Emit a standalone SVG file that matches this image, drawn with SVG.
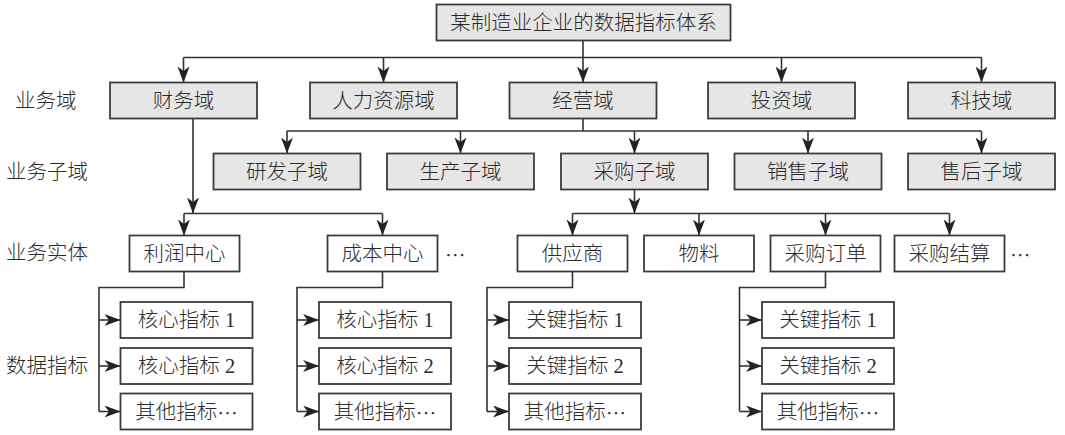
<svg xmlns="http://www.w3.org/2000/svg" width="1065" height="435" viewBox="0 0 1065 435">
<defs>
<style>
.g{fill:#e6e6e6;stroke:#3c3c3c;stroke-width:1.8}
.w{fill:#ffffff;stroke:#3c3c3c;stroke-width:1.8}
.t{font-family:"Liberation Serif","Noto Sans CJK SC",serif;font-size:20.5px;font-weight:300;fill:#2b2b2b;text-anchor:middle;dominant-baseline:central}
.l{font-family:"Liberation Serif","Noto Sans CJK SC",serif;font-size:20.5px;font-weight:300;fill:#2b2b2b;dominant-baseline:central}
.e{font-family:"Noto Sans CJK SC",sans-serif}
.c{fill:none;stroke:#333;stroke-width:1.6}
</style>
<marker id="ah" markerUnits="userSpaceOnUse" markerWidth="17" markerHeight="13" refX="16" refY="6" orient="auto">
<path d="M0,0 L16,6 L0,12 L4.5,6 z" fill="#222"/>
</marker>
</defs>
<rect width="1065" height="435" fill="#ffffff"/>

<g id="labels">
<text class="l" x="15" y="100.5">业务域</text>
<text class="l" x="6" y="171.5">业务子域</text>
<text class="l" x="6" y="253">业务实体</text>
<text class="l" x="6" y="365.5">数据指标</text>
</g>

<g id="connectors">
<path class="c" d="M583,40.5 V57.5 M183.5,57.5 H981.5"/>
<path class="c" marker-end="url(#ah)" d="M183.5,57.5 V82.5"/>
<path class="c" marker-end="url(#ah)" d="M383.5,57.5 V82.5"/>
<path class="c" marker-end="url(#ah)" d="M583,57.5 V82.5"/>
<path class="c" marker-end="url(#ah)" d="M781.5,57.5 V82.5"/>
<path class="c" marker-end="url(#ah)" d="M981.5,57.5 V82.5"/>

<path class="c" d="M583,118.5 V131 M287,131 H981.5"/>
<path class="c" marker-end="url(#ah)" d="M287,131 V153.5"/>
<path class="c" marker-end="url(#ah)" d="M460.5,131 V153.5"/>
<path class="c" marker-end="url(#ah)" d="M634.5,131 V153.5"/>
<path class="c" marker-end="url(#ah)" d="M808,131 V153.5"/>
<path class="c" marker-end="url(#ah)" d="M981.5,131 V153.5"/>

<path class="c" marker-end="url(#ah)" d="M193,118.5 V213.5"/>
<path class="c" d="M184,213.5 H382.5"/>
<path class="c" marker-end="url(#ah)" d="M184,213.5 V235.5"/>
<path class="c" marker-end="url(#ah)" d="M382.5,213.5 V235.5"/>

<path class="c" marker-end="url(#ah)" d="M634.5,189.5 V213.5"/>
<path class="c" d="M572.5,213.5 H949.5"/>
<path class="c" marker-end="url(#ah)" d="M572.5,213.5 V235.5"/>
<path class="c" marker-end="url(#ah)" d="M699,213.5 V235.5"/>
<path class="c" marker-end="url(#ah)" d="M825.5,213.5 V235.5"/>
<path class="c" marker-end="url(#ah)" d="M949.5,213.5 V235.5"/>

<path class="c" d="M184,271.5 V287.5 H99 V411.5"/>
<path class="c" marker-end="url(#ah)" d="M99,320 H120.5"/>
<path class="c" marker-end="url(#ah)" d="M99,366 H120.5"/>
<path class="c" marker-end="url(#ah)" d="M99,411.5 H120.5"/>

<path class="c" d="M382.5,271.5 V287.5 H297 V411.5"/>
<path class="c" marker-end="url(#ah)" d="M297,320 H319"/>
<path class="c" marker-end="url(#ah)" d="M297,366 H319"/>
<path class="c" marker-end="url(#ah)" d="M297,411.5 H319"/>

<path class="c" d="M572.5,271.5 V287.5 H487 V411.5"/>
<path class="c" marker-end="url(#ah)" d="M487,320 H509"/>
<path class="c" marker-end="url(#ah)" d="M487,366 H509"/>
<path class="c" marker-end="url(#ah)" d="M487,411.5 H509"/>

<path class="c" d="M825.5,271.5 V287.5 H739.5 V411.5"/>
<path class="c" marker-end="url(#ah)" d="M739.5,320 H762"/>
<path class="c" marker-end="url(#ah)" d="M739.5,366 H762"/>
<path class="c" marker-end="url(#ah)" d="M739.5,411.5 H762"/>
</g>

<g id="root"><rect class="g" x="436.5" y="4.5" width="294" height="36"/><text class="t" x="583.5" y="22.5">某制造业企业的数据指标体系</text></g>

<g id="d-finance"><rect class="g" x="110" y="82.5" width="147" height="36"/><text class="t" x="183.5" y="100.5">财务域</text></g>
<g id="d-hr"><rect class="g" x="310" y="82.5" width="147" height="36"/><text class="t" x="383.5" y="100.5">人力资源域</text></g>
<g id="d-ops"><rect class="g" x="509.5" y="82.5" width="147" height="36"/><text class="t" x="583" y="100.5">经营域</text></g>
<g id="d-invest"><rect class="g" x="708" y="82.5" width="147" height="36"/><text class="t" x="781.5" y="100.5">投资域</text></g>
<g id="d-tech"><rect class="g" x="908" y="82.5" width="147" height="36"/><text class="t" x="981.5" y="100.5">科技域</text></g>

<g id="s-rd"><rect class="g" x="213.5" y="153.5" width="147" height="36"/><text class="t" x="287" y="171.5">研发子域</text></g>
<g id="s-prod"><rect class="g" x="387" y="153.5" width="147" height="36"/><text class="t" x="460.5" y="171.5">生产子域</text></g>
<g id="s-purch"><rect class="g" x="561" y="153.5" width="147" height="36"/><text class="t" x="634.5" y="171.5">采购子域</text></g>
<g id="s-sales"><rect class="g" x="734.5" y="153.5" width="147" height="36"/><text class="t" x="808" y="171.5">销售子域</text></g>
<g id="s-after"><rect class="g" x="908" y="153.5" width="147" height="36"/><text class="t" x="981.5" y="171.5">售后子域</text></g>

<g id="e-profit"><rect class="w" x="129.5" y="235.5" width="110" height="36"/><text class="t" x="184.5" y="253.5">利润中心</text></g>
<g id="e-cost"><rect class="w" x="327.5" y="235.5" width="110" height="36"/><text class="t" x="382.5" y="253.5">成本中心</text><text class="l e" x="445" y="253.5">…</text></g>
<g id="e-supplier"><rect class="w" x="517.5" y="235.5" width="110" height="36"/><text class="t" x="572.5" y="253.5">供应商</text></g>
<g id="e-material"><rect class="w" x="644" y="235.5" width="110" height="36"/><text class="t" x="699" y="253.5">物料</text></g>
<g id="e-order"><rect class="w" x="770.5" y="235.5" width="110" height="36"/><text class="t" x="825.5" y="253.5">采购订单</text></g>
<g id="e-settle"><rect class="w" x="894.5" y="235.5" width="110" height="36"/><text class="t" x="949.5" y="253.5">采购结算</text><text class="l e" x="1010" y="253.5">…</text></g>

<g id="m-profit-1"><rect class="w" x="120.5" y="302" width="132" height="36"/><text class="t" x="186.5" y="320">核心指标 1</text></g>
<g id="m-profit-2"><rect class="w" x="120.5" y="348" width="132" height="36"/><text class="t" x="186.5" y="366">核心指标 2</text></g>
<g id="m-profit-3"><rect class="w" x="120.5" y="393.5" width="132" height="36"/><text class="t" x="186.5" y="411.5">其他指标<tspan class="e">…</tspan></text></g>

<g id="m-cost-1"><rect class="w" x="319" y="302" width="132" height="36"/><text class="t" x="385" y="320">核心指标 1</text></g>
<g id="m-cost-2"><rect class="w" x="319" y="348" width="132" height="36"/><text class="t" x="385" y="366">核心指标 2</text></g>
<g id="m-cost-3"><rect class="w" x="319" y="393.5" width="132" height="36"/><text class="t" x="385" y="411.5">其他指标<tspan class="e">…</tspan></text></g>

<g id="m-supplier-1"><rect class="w" x="509" y="302" width="132" height="36"/><text class="t" x="575" y="320">关键指标 1</text></g>
<g id="m-supplier-2"><rect class="w" x="509" y="348" width="132" height="36"/><text class="t" x="575" y="366">关键指标 2</text></g>
<g id="m-supplier-3"><rect class="w" x="509" y="393.5" width="132" height="36"/><text class="t" x="575" y="411.5">其他指标<tspan class="e">…</tspan></text></g>

<g id="m-order-1"><rect class="w" x="762" y="302" width="132" height="36"/><text class="t" x="828" y="320">关键指标 1</text></g>
<g id="m-order-2"><rect class="w" x="762" y="348" width="132" height="36"/><text class="t" x="828" y="366">关键指标 2</text></g>
<g id="m-order-3"><rect class="w" x="762" y="393.5" width="132" height="36"/><text class="t" x="828" y="411.5">其他指标<tspan class="e">…</tspan></text></g>
</svg>
